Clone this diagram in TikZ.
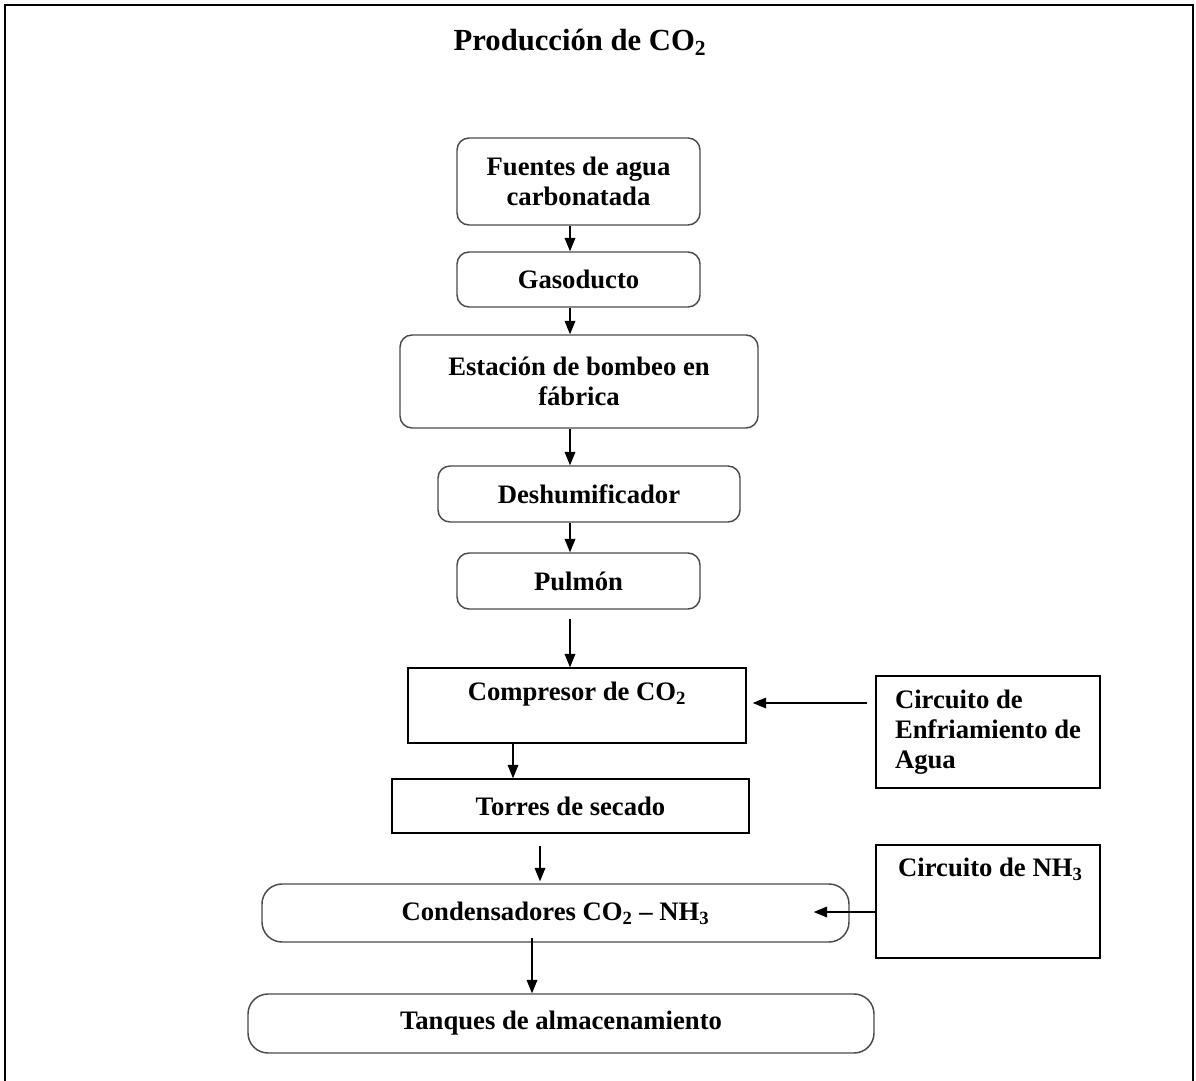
\documentclass[tikz,border=0pt]{standalone}
\usepackage{fontspec}
\setmainfont{Liberation Serif}
\usetikzlibrary{arrows.meta, positioning, calc}
\definecolor{boxgray}{HTML}{4A4A4A}

\begin{document}
\begin{tikzpicture}[x=0.75pt, y=-0.75pt,
    every node/.style={font=\fontsize{20}{22}\selectfont\bfseries},
    roundbox/.style={draw=boxgray, line width=1.1pt, rounded corners=9pt, inner sep=0pt, align=center},
    squarebox/.style={draw=black, line width=1.1pt, inner sep=0pt, align=center},
    flow/.style={->, >={Triangle[length=10pt, width=8pt]}, line width=0.9pt}]
  \useasboundingbox (0,0) rectangle (1196,1081);
  \draw[line width=1.2pt] (5,1090) -- (5,5) -- (1193,5) -- (1193,1090);

  \node[font=\fontsize{23}{26}\selectfont\bfseries] (titulo) at (580,42) {Producción de CO\textsubscript{2}};

  % columna principal
  \node[roundbox, minimum width=182.25pt, minimum height=65.25pt] (fuentes) at (578.5,181.5) {Fuentes de agua\\carbonatada};
  \node[roundbox, minimum width=182.25pt, minimum height=41.25pt] (gasoducto) at (578.5,279.5) {Gasoducto};
  \node[roundbox, minimum width=268.5pt, minimum height=69.75pt] (estacion) at (579,381.5) {Estación de bombeo en\\fábrica};
  \node[roundbox, minimum width=226.5pt, minimum height=42pt] (deshum) at (589,494) {Deshumificador};
  \node[roundbox, minimum width=182.25pt, minimum height=42pt] (pulmon) at (578.5,581) {Pulmón};
  \node[squarebox, minimum width=253.5pt, minimum height=56.25pt,
        label={[anchor=center, yshift=-20.25pt]north:Compresor de CO\textsubscript{2}}] (compresor) at (577,705.5) {};
  \node[squarebox, minimum width=267.75pt, minimum height=40.5pt] (torres) at (570.5,806) {Torres de secado};
  \node[roundbox, rounded corners=15pt, minimum width=440.25pt, minimum height=43.5pt] (conden) at (555.5,913) {Condensadores CO\textsubscript{2} -- NH\textsubscript{3}};
  \node[roundbox, rounded corners=15pt, minimum width=469.5pt, minimum height=44.25pt] (tanques) at (561,1023.5) {Tanques de almacenamiento};

  % circuitos laterales
  \node[squarebox, font=\fontsize{20}{22.5}\selectfont\bfseries, align=left,
        minimum width=168pt, minimum height=84pt] (enfriamiento) at (988,732) {Circuito de\\Enfriamiento de\\Agua};
  \node[squarebox, minimum width=168pt, minimum height=84.75pt,
        label={[anchor=west, inner sep=0pt, xshift=17pt, yshift=-18.75pt]north west:Circuito de NH\textsubscript{3}}] (nh3) at (988,901.5) {};

  % flechas
  \coordinate (eje) at (570,0);
  \draw[flow] (fuentes.south -| eje) -- (gasoducto.north -| eje);
  \draw[flow] (gasoducto.south -| eje) -- (estacion.north -| eje);
  \draw[flow] (estacion.south -| eje) -- (deshum.north -| eje);
  \draw[flow] (deshum.south -| eje) -- (pulmon.north -| eje);
  \draw[flow] ($(pulmon.south -| eje)+(0,9)$) -- (compresor.north -| eje);
  \draw[flow] ($(compresor.south)+(-64,0)$) -- ($(torres.north)+(-57.5,0)$);
  \draw[flow] ($(torres.south)+(-30.5,12)$) -- ($(conden.north)+(-15.5,-2)$);
  \draw[flow] ($(conden.south)+(-23.5,-5)$) -- ($(tanques.north)+(-29,0)$);
  \draw[flow] ($(enfriamiento.west)+(-8,-29)$) -- ($(compresor.east)+(6,-2.5)$);
  \draw[flow] ($(nh3.west)+(0,10.5)$) -- ($(conden.east)+(-36,-1)$);
\end{tikzpicture}
\end{document}
